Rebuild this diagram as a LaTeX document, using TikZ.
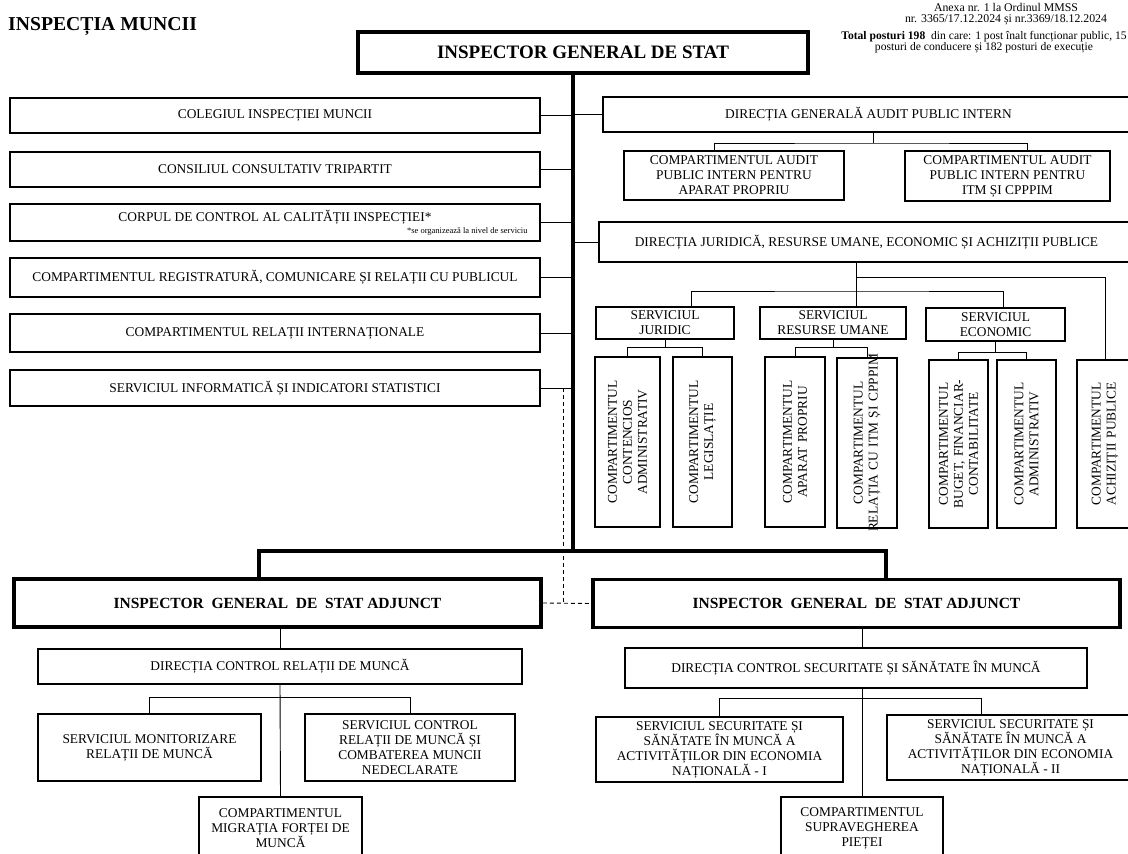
\documentclass[tikz,border=0pt]{standalone}
\usepackage{fontspec}
\setmainfont{Liberation Serif}
\usepackage{tikz}
\usepackage{xcolor}

\begin{document}
\begin{tikzpicture}[x=1pt,y=-1pt]

\tikzset{
    caseta/.style = {
    draw, line width=1.1pt, inner sep=2pt, align=center,
    font=\fontsize{13.4}{15}\selectfont
    }
}

\tikzstyle{conducere}=[draw, line width=3.6pt, inner sep=2pt, font=\bfseries\fontsize{15.5}{18}\selectfont]
\tikzstyle{compartiment}=[caseta, rotate=90, minimum width=170pt, text width=160pt]
\tikzstyle{linie}=[line width=0.9pt]
\tikzstyle{linie groasa}=[line width=3.6pt]
\tikzstyle{linie punctata}=[line width=0.9pt, dash pattern=on 4pt off 3pt]

\useasboundingbox (0,0) rectangle (1128,854);
\clip (0,0) rectangle (1128,854);

\node (titlu) [anchor=base west, inner sep=0pt, font=\bfseries\fontsize{19.7}{22}\selectfont] at (8,30) {INSPECȚIA\ MUNCII};

\node (anexa) [align=center, font=\fontsize{11.8}{11}\selectfont] at (1006,14) {Anexa nr. 1 la Ordinul MMSS\\nr. 3365/17.12.2024 și nr.3369/18.12.2024};
\node (total) [align=center, font=\fontsize{11.6}{10.5}\selectfont] at (984,42) {\textbf{Total posturi 198}\ \ din care: 1 post înalt funcționar public, 15\\posturi de conducere și 182 posturi de execuție};

\node (igs) [conducere, minimum width=450pt, minimum height=41pt, font=\bfseries\fontsize{19}{22}\selectfont] at (583,52.5) {INSPECTOR GENERAL DE STAT};

% coloana din stanga
\node (colegiul) [caseta, minimum width=530pt, minimum height=35pt] at (275,115.5) {COLEGIUL INSPECȚIEI MUNCII};
\node (consiliul) [caseta, minimum width=530pt, minimum height=35pt] at (275,169.5) {CONSILIUL CONSULTATIV TRIPARTIT};
\node (corpul) [caseta, minimum width=530pt, minimum height=37pt] at (275,222.5) {CORPUL DE CONTROL AL CALITĂȚII INSPECȚIEI*\\[-3pt]\makebox[505pt][r]{\fontsize{8.5}{9}\selectfont *se organizează la nivel de serviciu}};
\node (registratura) [caseta, minimum width=530pt, minimum height=39pt] at (275,277.5) {COMPARTIMENTUL REGISTRATURĂ, COMUNICARE ȘI RELAȚII CU PUBLICUL};
\node (relatii) [caseta, minimum width=530pt, minimum height=38pt] at (275,333) {COMPARTIMENTUL RELAȚII INTERNAȚIONALE};
\node (informatica) [caseta, minimum width=530pt, minimum height=36pt] at (275,388) {SERVICIUL INFORMATICĂ ȘI INDICATORI STATISTICI};

\coordinate (bara) at (573,551);
\draw[linie groasa] (igs.south -| bara) -- (bara);

\foreach \n in {colegiul,consiliul,corpul,registratura,relatii,informatica}{
    \draw[linie] (\n.east) -- (\n.east -| bara);
}

% coloana din dreapta
\node (audit) [caseta, minimum width=531pt, minimum height=35pt] at (868.5,114.5) {DIRECȚIA GENERALĂ AUDIT PUBLIC INTERN};
\node (audit1) [caseta, minimum width=220pt, minimum height=49pt] at (734,175.5) {COMPARTIMENTUL AUDIT\\PUBLIC INTERN PENTRU\\APARAT PROPRIU};
\node (audit2) [caseta, minimum width=205pt, minimum height=50pt] at (1007.5,176) {COMPARTIMENTUL AUDIT\\PUBLIC INTERN PENTRU\\ITM ȘI CPPPIM};
\node (juridica) [caseta, minimum width=535pt, minimum height=40pt] at (866.5,242) {DIRECȚIA JURIDICĂ, RESURSE UMANE, ECONOMIC ȘI ACHIZIȚII PUBLICE};

\draw[linie] (audit.west) -- (audit.west -| bara);
\draw[linie] (juridica.west) -- (juridica.west -| bara);

\coordinate (ra) at (873,143);
\draw[linie] (audit.south -| ra) -- (ra);
\draw[linie] ([xshift=-20pt]audit1.north) |- (ra) -| ([xshift=19.5pt]audit2.north);

\node (sj) [caseta, minimum width=138pt, minimum height=32pt] at (665,323) {SERVICIUL\\JURIDIC};
\node (sru) [caseta, minimum width=146pt, minimum height=32pt] at (833,323) {SERVICIUL\\RESURSE UMANE};
\node (se) [caseta, minimum width=139pt, minimum height=33pt] at (995.5,324.5) {SERVICIUL\\ECONOMIC};

% nodurile rotite: east este sus
\node (c1) [compartiment, minimum height=65pt] at (627.5,442) {COMPARTIMENTUL\\CONTENCIOS\\ADMINISTRATIV};
\node (c2) [compartiment, minimum height=59pt] at (702.5,442) {COMPARTIMENTUL\\LEGISLAȚIE};
\node (c3) [compartiment, minimum height=60pt] at (795,442) {COMPARTIMENTUL\\APARAT PROPRIU};
\node (c4) [compartiment, minimum height=60pt] at (867,443) {COMPARTIMENTUL\\\makebox[\linewidth]{RELAȚIA CU ITM ȘI CPPPIM}};
\node (c5) [compartiment, minimum width=168pt, minimum height=59pt] at (958.5,444) {COMPARTIMENTUL\\BUGET, FINANCIAR-\\CONTABILITATE};
\node (c6) [compartiment, minimum width=168pt, minimum height=59pt] at (1026.5,444) {COMPARTIMENTUL\\ADMINISTRATIV};
\node (c7) [compartiment, minimum width=168pt, minimum height=56pt] at (1105,444) {COMPARTIMENTUL\\ACHIZIȚII PUBLICE};

\coordinate (nod) at (856,291);
\draw[linie] (juridica.south -| nod) -- (sru.north -| nod);
\draw[linie] ([xshift=26pt]sj.north) |- (nod) -| ([xshift=7.5pt]se.north);
\draw[linie] (juridica.south -| nod) ++(0,15) -| (c7.east);

\foreach \s/\a/\b/\d in {sj/c1/c2/8, sru/c3/c4/8, se/c5/c6/11}{
    \draw[linie] (\s.south) -- ++(0,\d) -| (\a.east);
    \draw[linie] (\s.south) -- ++(0,\d) -| (\b.east);
}

% adjunctii
\node (adj1) [conducere, minimum width=527pt, minimum height=48pt] at (277.5,603) {INSPECTOR\ \ GENERAL\ \ DE\ \ STAT ADJUNCT};
\node (adj2) [conducere, minimum width=527pt, minimum height=48pt] at (856.5,603.5) {INSPECTOR\ \ GENERAL\ \ DE\ \ STAT ADJUNCT};

\coordinate (b1) at (259,551);
\coordinate (b2) at (886,551);
\draw[linie groasa] (adj1.north -| b1) -- (b1) -- (b2) -- (adj2.north -| b2);

\coordinate (pct) at (563,603);
\draw[linie punctata] (informatica.east -| pct) -- (pct);
\draw[linie punctata] (adj1.east) -- (adj2.west);

% relatii de munca
\node (dcrm) [caseta, minimum width=484pt, minimum height=35pt] at (280,666.5) {DIRECȚIA CONTROL RELAȚII DE MUNCĂ};
\node (smrm) [caseta, minimum width=223pt, minimum height=67pt] at (149.5,747.5) {SERVICIUL MONITORIZARE\\RELAȚII DE MUNCĂ};
\node (scrm) [caseta, minimum width=210pt, minimum height=67pt] at (410,747.5) {SERVICIUL CONTROL\\RELAȚII DE MUNCĂ ȘI\\COMBATEREA MUNCII\\NEDECLARATE};
\node (migratia) [caseta, minimum width=163pt, minimum height=62pt] at (280.5,828) {COMPARTIMENTUL\\MIGRAȚIA FORȚEI DE\\MUNCĂ};

\draw[linie] (adj1.south -| dcrm.north) -- (dcrm.north);
\draw[linie] (dcrm.south) -- (migratia.north);
\foreach \n in {smrm,scrm}{
    \draw[linie] (dcrm.south) ++(0,13) -| (\n.north);
}

% securitate si sanatate
\node (dcssm) [caseta, minimum width=462pt, minimum height=40pt] at (856,668) {DIRECȚIA CONTROL SECURITATE ȘI SĂNĂTATE ÎN MUNCĂ};
\node (ssm1) [caseta, minimum width=247pt, minimum height=65pt] at (719.5,749.5) {SERVICIUL SECURITATE ȘI\\SĂNĂTATE ÎN MUNCĂ A\\ACTIVITĂȚILOR DIN ECONOMIA\\NAȚIONALĂ - I};
\node (ssm2) [caseta, minimum width=247pt, minimum height=65pt] at (1010.5,747.5) {SERVICIUL SECURITATE ȘI\\SĂNĂTATE ÎN MUNCĂ A\\ACTIVITĂȚILOR DIN ECONOMIA\\NAȚIONALĂ - II};
\node (sup) [caseta, minimum width=162pt, minimum height=62pt] at (862,828) {COMPARTIMENTUL\\SUPRAVEGHEREA\\PIEȚEI};

\draw[linie] (adj2.south -| sup.north) -- (dcssm.north -| sup.north);
\draw[linie] (dcssm.south -| sup.north) -- (sup.north);
\draw[linie] (dcssm.south -| sup.north) ++(0,10) -| (ssm1.north);
\draw[linie] (dcssm.south -| sup.north) ++(0,10) -| ([xshift=-29.5pt]ssm2.north);

\end{tikzpicture}
\end{document}
